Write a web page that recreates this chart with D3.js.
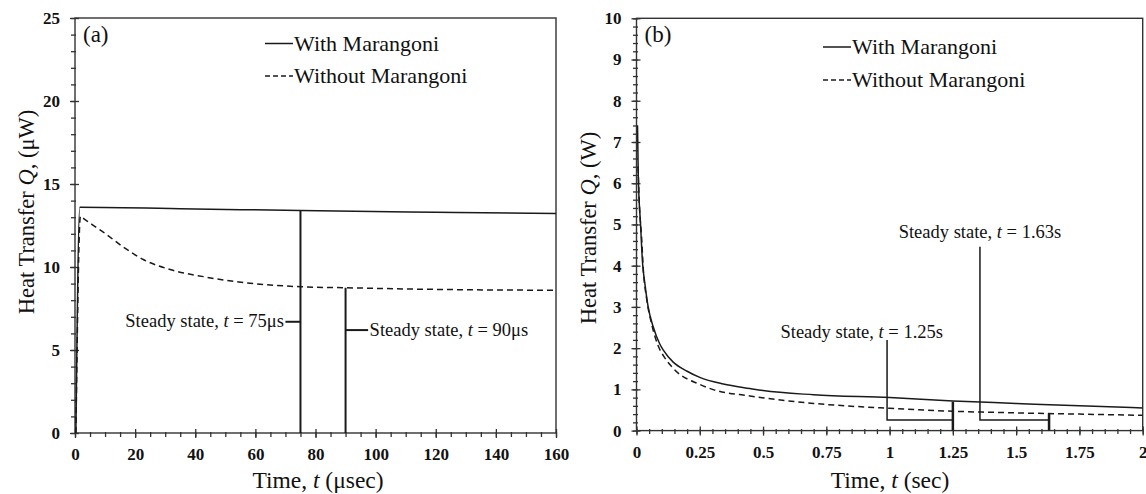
<!DOCTYPE html>
<html><head><meta charset="utf-8">
<script src="https://cdn.jsdelivr.net/npm/d3@7"></script>
<style>
body{margin:0;background:#fff}
svg{display:block}
text{font-family:"Liberation Serif","Times New Roman",serif;fill:#111}
.tick text{font-weight:bold;font-size:17px}
</style>
</head><body><svg id="c" width="1146" height="494"></svg>
<script>
// ---------- data ----------
const aXTicks = [0, 20, 40, 60, 80, 100, 120, 140, 160];
const aYTicks = [0, 5, 10, 15, 20, 25];
const aWithT    = [0.3, 1.6, 40, 75, 120, 160];
const aWithQ    = [0, 13.6, 13.5, 13.4, 13.3, 13.23];
const aWithoutT = [0.3, 1.8, 3, 5.5, 9.4, 16.1, 22.7, 31.6, 42.7, 53.8, 64.9, 75, 90, 120, 160];
const aWithoutQ = [0, 13.05, 12.9, 12.58, 12.1, 11.2, 10.45, 9.85, 9.42, 9.11, 8.92, 8.81, 8.75, 8.65, 8.6];

const bXTicks = [0, 0.25, 0.5, 0.75, 1, 1.25, 1.5, 1.75, 2];
const bYTicks = [0, 1, 2, 3, 4, 5, 6, 7, 8, 9, 10];
const bWithT    = [0.004, 0.007, 0.016, 0.024, 0.033, 0.046, 0.066, 0.092, 0.106, 0.145, 0.2, 0.25, 0.343, 0.448, 0.5, 0.7, 1.0, 1.25, 1.5, 1.75, 2.0];
const bWithQ    = [7.4, 6.2, 5.0, 4.06, 3.57, 3.0, 2.52, 2.1, 1.95, 1.66, 1.44, 1.29, 1.13, 1.02, 0.97, 0.87, 0.80, 0.72, 0.66, 0.60, 0.55];
const bWithoutT = [0.006, 0.012, 0.02, 0.027, 0.04, 0.06, 0.086, 0.106, 0.15, 0.25, 0.3, 0.448, 0.7, 1.0, 1.25, 1.5, 1.75, 2.0];
const bWithoutQ = [6.4, 5.4, 4.7, 3.9, 3.2, 2.58, 2.05, 1.82, 1.48, 1.12, 1.0, 0.84, 0.66, 0.54, 0.47, 0.43, 0.40, 0.37];

const seriesNames = ["With Marangoni", "Without Marangoni"];

// ---------- drawing ----------
const svg = d3.select("#c");
const ink = "#1a1a1a";

function panel(cfg) {
  const x = d3.scaleLinear().domain(cfg.xDomain).range(cfg.xRange);
  const y = d3.scaleLinear().domain(cfg.yDomain).range(cfg.yRange);
  const g = svg.append("g");
  const clipId = "clip" + cfg.id;
  svg.append("clipPath").attr("id", clipId).append("rect")
    .attr("x", cfg.xRange[0]).attr("y", cfg.yRange[1])
    .attr("width", cfg.xRange[1] - cfg.xRange[0]).attr("height", cfg.yRange[0] - cfg.yRange[1]);

  // minor ticks
  const minorX = g.append("g").attr("transform", `translate(0,${cfg.yRange[0]})`)
    .call(d3.axisBottom(x).tickValues(cfg.minorX).tickSize(cfg.minOut).tickFormat(""));
  const minorY = g.append("g").attr("transform", `translate(${cfg.xRange[0]},0)`)
    .call(d3.axisLeft(y).tickValues(cfg.minorY).tickSize(cfg.minOut).tickFormat(""));
  minorX.selectAll(".tick line").attr("y1", -cfg.minIn);
  minorY.selectAll(".tick line").attr("x1", cfg.minIn);
  // major ticks
  const majX = g.append("g").attr("transform", `translate(0,${cfg.yRange[0]})`)
    .call(d3.axisBottom(x).tickValues(cfg.xTicks).tickSize(cfg.majOut).tickPadding(15 - cfg.majOut).tickFormat(d => String(d)));
  const majY = g.append("g").attr("transform", `translate(${cfg.xRange[0]},0)`)
    .call(d3.axisLeft(y).tickValues(cfg.yTicks).tickSize(cfg.majOut).tickPadding(cfg.yPad).tickFormat(d => String(d)));
  majX.selectAll(".tick line").attr("y1", -cfg.majIn);
  majY.selectAll(".tick line").attr("x1", cfg.majIn);
  g.selectAll(".domain").remove();
  g.selectAll(".tick line").attr("stroke", "#333").attr("stroke-width", 1.3);
  g.selectAll(".tick text").attr("fill", "#111");

  // frame
  g.append("rect").attr("x", cfg.xRange[0]).attr("y", cfg.yRange[1])
    .attr("width", cfg.xRange[1] - cfg.xRange[0]).attr("height", cfg.yRange[0] - cfg.yRange[1])
    .attr("fill", "none").attr("stroke", "#333").attr("stroke-width", 1.4);

  // series
  const plot = g.append("g").attr("clip-path", `url(#${clipId})`);
  cfg.series.forEach(s => {
    const idx = d3.range(s.t.length);
    const line = d3.line().x(i => x(s.t[i])).y(i => y(s.q[i])).curve(d3.curveMonotoneX);
    plot.append("path").attr("d", line(idx)).attr("fill", "none")
      .attr("stroke", ink).attr("stroke-width", 1.5)
      .attr("stroke-dasharray", s.dash || null);
  });

  // legend
  cfg.series.forEach((s, i) => {
    const ly = cfg.legendY[i];
    g.append("line").attr("x1", cfg.legendX).attr("x2", cfg.legendX + 28)
      .attr("y1", ly).attr("y2", ly).attr("stroke", ink).attr("stroke-width", 1.5)
      .attr("stroke-dasharray", s.dash ? "5,3" : null);
    g.append("text").attr("x", cfg.legendX + 29).attr("y", ly + 7)
      .attr("font-size", 22).text(seriesNames[i]);
  });

  // panel letter
  g.append("text").attr("x", cfg.xRange[0] + 8).attr("y", 42).attr("font-size", 23).text(cfg.letter);

  // axis labels
  const xl = g.append("text").attr("x", cfg.xLabelX).attr("y", 488)
    .attr("text-anchor", "middle").attr("font-size", 23.5);
  xl.append("tspan").text("Time, ");
  xl.append("tspan").attr("font-style", "italic").text("t");
  xl.append("tspan").text(cfg.xUnit);

  const yl = g.append("text").attr("transform", `translate(${cfg.yLabelX},${cfg.yLabelY}) rotate(-90)`)
    .attr("text-anchor", "middle").attr("font-size", 22.5);
  yl.append("tspan").text("Heat Transfer ");
  yl.append("tspan").attr("font-style", "italic").text("Q");
  yl.append("tspan").text(cfg.yUnit);

  return {g, x, y};
}

function ssText(g, x, y, anchor, value) {
  const t = g.append("text").attr("x", x).attr("y", y).attr("text-anchor", anchor).attr("font-size", 18.5);
  t.append("tspan").text("Steady state, ");
  t.append("tspan").attr("font-style", "italic").text("t");
  t.append("tspan").text(" = " + value);
}
function seg(g, x1, y1, x2, y2, w) {
  g.append("line").attr("x1", x1).attr("y1", y1).attr("x2", x2).attr("y2", y2)
    .attr("stroke", ink).attr("stroke-width", w);
}

// ---- panel (a)
const A = panel({
  id: "a", letter: "(a)",
  xDomain: [0, 160], xRange: [75, 556],
  yDomain: [0, 25], yRange: [433, 18],
  xTicks: aXTicks, yTicks: aYTicks,
  minorX: d3.range(0, 161, 5), minorY: d3.range(0, 26, 1),
  majOut: 5, majIn: 4, minOut: 4, minIn: 1, yPad: 10,
  series: [{t: aWithT, q: aWithQ}, {t: aWithoutT, q: aWithoutQ, dash: "6,4"}],
  legendX: 265, legendY: [43.5, 76],
  xLabelX: 318, xUnit: " (\u03bcsec)",
  yLabelX: 34, yLabelY: 212, yUnit: ", (\u03bcW)"
});
{
  const {g, x, y} = A;
  // steady-state markers at 75 and 90 µs
  seg(g, x(75), y(13.4), x(75), y(0), 2);
  seg(g, x(70), y(6.7), x(75), y(6.7), 2);
  ssText(g, x(69.5), y(6.7) + 5.5, "end", "75\u03bcs");
  seg(g, x(90), y(8.75), x(90), y(0), 2);
  seg(g, x(90), y(6.2), x(97.5), y(6.2), 2);
  ssText(g, x(98), y(6.2) + 5.7, "start", "90\u03bcs");
}

// ---- panel (b)
const B = panel({
  id: "b", letter: "(b)",
  xDomain: [0, 2], xRange: [636.5, 1142.7],
  yDomain: [0, 10], yRange: [430.6, 18.3],
  xTicks: bXTicks, yTicks: bYTicks,
  minorX: d3.range(0, 2.001, 0.05), minorY: d3.range(0, 10.001, 0.2),
  majOut: 5, majIn: 4, minOut: 3.5, minIn: 1.5, yPad: 10,
  series: [{t: bWithT, q: bWithQ}, {t: bWithoutT, q: bWithoutQ, dash: "6,4"}],
  legendX: 823, legendY: [47, 80],
  xLabelX: 890, xUnit: " (sec)",
  yLabelX: 596, yLabelY: 228, yUnit: ", (W)"
});
{
  const {g, x, y} = B;
  g.append("path").attr("fill", "none").attr("stroke", ink).attr("stroke-width", 1.5)
    .attr("d", d3.line()([[x(0.99), y(2.2)], [x(0.99), y(0.26)], [x(1.25), y(0.26)]]));
  seg(g, x(1.25), y(0.7), x(1.25), y(0), 2.5);
  ssText(g, 943, y(2.25), "end", "1.25s");
  g.append("path").attr("fill", "none").attr("stroke", ink).attr("stroke-width", 1.5)
    .attr("d", d3.line()([[x(1.357), y(4.46)], [x(1.357), y(0.26)], [x(1.63), y(0.26)]]));
  seg(g, x(1.63), y(0.42), x(1.63), y(0), 2.5);
  ssText(g, x(1.357), y(4.67), "middle", "1.63s");
}
</script></body></html>
